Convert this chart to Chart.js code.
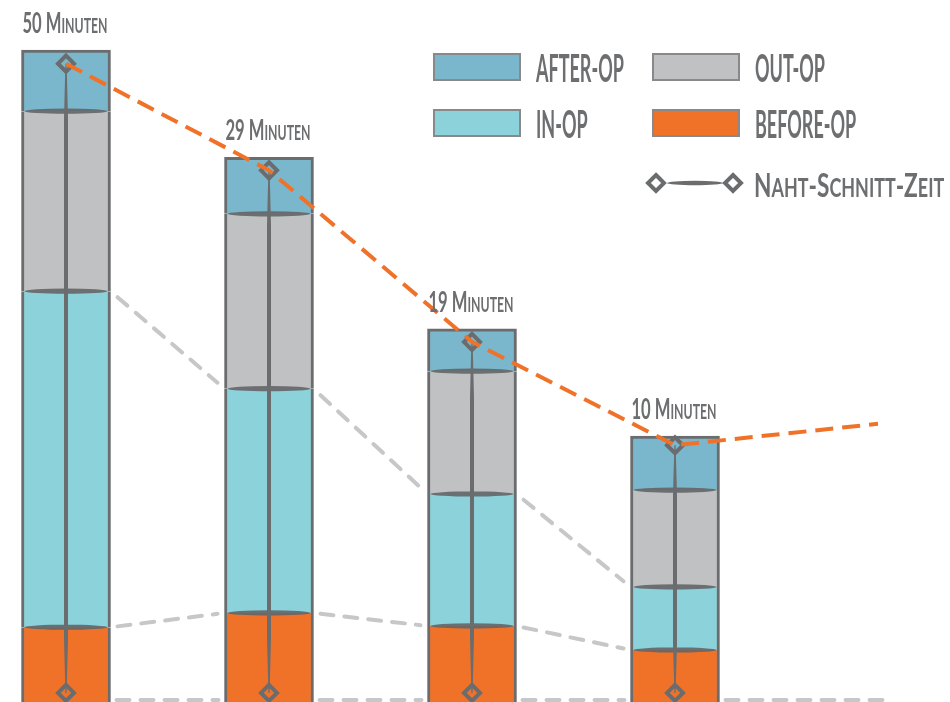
<!DOCTYPE html>
<html><head><meta charset="utf-8">
<script src="https://cdn.jsdelivr.net/npm/chart.js@4/dist/chart.umd.min.js"></script>
<style>html,body{margin:0;padding:0;background:#fff;overflow:hidden}</style>
</head><body>
<canvas id="c" width="950" height="702"></canvas>
<script>
// ---- data ----
const categories = ['1', '2', '3', '4', '5'];
const durationLabels = ['50 Minuten', '29 Minuten', '19 Minuten', '10 Minuten'];
const beforeOp = [11.5, 13.7, 11.7, 8.0, null];
const inOp     = [51.7, 34.5, 20.3, 9.7, null];
const outOp    = [27.7, 26.9, 18.9, 14.9, null];
const afterOp  = [9.4, 8.7, 6.5, 8.3, null];
const nahtStart = [1.4, 1.4, 1.4, 1.4, null];
const nahtEnd   = [98.2, 81.8, 55.4, 39.5, null];
const trendLine = [98.2, 81.8, 55.4, 39.5, 42.8];
const seriesNames = ['BEFORE-OP', 'IN-OP', 'OUT-OP', 'AFTER-OP'];
const nahtName = 'Naht-Schnitt-Zeit';

// ---- styles ----
const COL = {before:'#f07228', inop:'#8bd2da', out:'#c0c1c3', after:'#7ab6cc',
             frame:'#6b6c6e', text:'#6d6e70', dash:'#c6c7c9', trend:'#f07228'};
const FONT = 'Lato, "Open Sans", sans-serif';
const CAPR = 0.72;

function drawSmallCaps(ctx, text, x, y, capH, scH, sx, align, weight) {
  const runs = [];
  for (const ch of text) {
    const small = ch !== ch.toUpperCase();
    const last = runs[runs.length - 1];
    if (last && last.small === small) last.t += ch; else runs.push({small, t: ch});
  }
  let total = 0;
  runs.forEach(r => {
    r.font = `${weight || 'normal'} ${((r.small ? scH : capH) / CAPR).toFixed(2)}px ${FONT}`;
    r.s = r.t.toUpperCase();
    ctx.font = r.font;
    r.w = ctx.measureText(r.s).width;
    total += r.w;
  });
  let cx = align === 'center' ? x - total * sx / 2 : x;
  ctx.save();
  ctx.fillStyle = COL.text;
  ctx.textAlign = 'left';
  ctx.textBaseline = 'alphabetic';
  runs.forEach(r => {
    ctx.font = r.font;
    ctx.save(); ctx.translate(cx, y); ctx.scale(sx, 1); ctx.fillText(r.s, 0, 0); ctx.restore();
    cx += r.w * sx;
  });
  ctx.restore();
}

function diamond(ctx, x, y, r) {
  ctx.beginPath();
  ctx.moveTo(x, y - r); ctx.lineTo(x + r, y); ctx.lineTo(x, y + r); ctx.lineTo(x - r, y); ctx.closePath();
  ctx.lineWidth = 4; ctx.strokeStyle = COL.frame; ctx.lineJoin = 'miter'; ctx.stroke();
}

function lens(ctx, x, y, rx, ry) {
  ctx.beginPath();
  ctx.ellipse(x, y, rx, ry, 0, 0, Math.PI * 2);
  ctx.fill();
}

function dashedSeg(ctx, x1, y1, x2, y2, trim) {
  const dx = x2 - x1, dy = y2 - y1;
  const f1 = trim / dx, f2 = 1 - trim / dx;
  ctx.beginPath();
  ctx.moveTo(x1 + dx * f1, y1 + dy * f1);
  ctx.lineTo(x1 + dx * f2, y1 + dy * f2);
  ctx.stroke();
}

const barBorder = {left: 3, right: 3, top: 0, bottom: 0};
const barCommon = {type: 'bar', borderColor: COL.frame, borderSkipped: false, barThickness: 89,
                   clip: false, order: 10, stack: 'ops', yAxisID: 'y'};

const data = {
  labels: categories,
  datasets: [
    Object.assign({label: seriesNames[0], data: beforeOp, backgroundColor: COL.before, borderWidth: barBorder}, barCommon),
    Object.assign({label: seriesNames[1], data: inOp, backgroundColor: COL.inop, borderWidth: barBorder}, barCommon),
    Object.assign({label: seriesNames[2], data: outOp, backgroundColor: COL.out, borderWidth: barBorder}, barCommon),
    Object.assign({label: seriesNames[3], data: afterOp, backgroundColor: COL.after,
                   borderWidth: {left: 3, right: 3, top: 3, bottom: 0}}, barCommon),
    {type: 'line', label: nahtName + ' (Start)', data: nahtStart, showLine: false, pointStyle: 'rectRot',
     pointRadius: 8, pointBorderWidth: 4, pointBorderColor: COL.frame, pointBackgroundColor: 'rgba(0,0,0,0)',
     yAxisID: 'y2', order: 3, clip: false},
    {type: 'line', label: nahtName, data: nahtEnd, showLine: false, pointStyle: 'rectRot',
     pointRadius: 8, pointBorderWidth: 4, pointBorderColor: COL.frame, pointBackgroundColor: 'rgba(0,0,0,0)',
     yAxisID: 'y2', order: 2, clip: false},
    {type: 'line', label: 'Trend', data: trendLine, borderColor: COL.trend, borderWidth: 4,
     borderDash: [18, 9], pointRadius: 0, fill: false, tension: 0, yAxisID: 'y2', order: 1, clip: false}
  ]
};

const decor = {
  id: 'decor',
  beforeDatasetsDraw(chart) {
    const ctx = chart.ctx;
    const m0 = chart.getDatasetMeta(0).data, m1 = chart.getDatasetMeta(1).data;
    ctx.save();
    ctx.strokeStyle = COL.dash; ctx.lineWidth = 4; ctx.lineCap = 'round';
    ctx.setLineDash([13, 11]);
    const n = 4;
    for (let i = 0; i < n - 1; i++) {
      const a0 = m0[i], b0 = m0[i + 1], a1 = m1[i], b1 = m1[i + 1];
      const ra = a0.x + a0.width / 2, lb = b0.x - b0.width / 2;
      dashedSeg(ctx, ra, a0.y, lb, b0.y, 7);
      dashedSeg(ctx, ra, a1.y, lb, b1.y, 7);
      dashedSeg(ctx, ra, a0.base - 2, lb, b0.base - 2, 6);
    }
    const last = m0[n - 1];
    const xEnd = chart.scales.x.getPixelForValue(n) + 12;
    dashedSeg(ctx, last.x + last.width / 2, last.base - 2, xEnd, last.base - 2, 6);
    ctx.restore();
  },
  beforeDatasetDraw(chart, args) {
    if (args.index !== 4) return;
    const ctx = chart.ctx;
    ctx.save();
    ctx.fillStyle = 'rgba(100,101,103,0.9)';
    for (let d = 0; d < 3; d++) {
      chart.getDatasetMeta(d).data.forEach((el, i) => {
        if (data.datasets[d].data[i] == null) return;
        lens(ctx, el.x, el.y, el.width / 2 - 3, 2.6);
      });
    }
    const s = chart.getDatasetMeta(4).data, e = chart.getDatasetMeta(5).data;
    ctx.fillStyle = COL.frame;
    for (let i = 0; i < 4; i++) {
      const x = e[i].x, yt = e[i].y, yb = s[i].y;
      const T = Math.min(55, (yb - yt) * 0.2);
      ctx.beginPath();
      ctx.moveTo(x - 0.6, yt); ctx.lineTo(x - 2, yt + T); ctx.lineTo(x - 2, yb - T);
      ctx.lineTo(x - 0.6, yb); ctx.lineTo(x + 0.6, yb); ctx.lineTo(x + 2, yb - T);
      ctx.lineTo(x + 2, yt + T); ctx.lineTo(x + 0.6, yt); ctx.closePath();
      ctx.fill();
    }
    ctx.restore();
  },
  afterDatasetsDraw(chart) {
    const ctx = chart.ctx;
    chart.getDatasetMeta(3).data.forEach((el, i) => {
      if (i >= durationLabels.length) return;
      drawSmallCaps(ctx, durationLabels[i], el.x - 1, el.y - 17, 21, 15.5, 0.57, 'center', 'bold');
    });
    const ds = chart.data.datasets;
    const boxes = [[3, 433, 53], [2, 652, 53], [1, 433, 109], [0, 652, 109]];
    boxes.forEach(([d, x, y]) => {
      ctx.save();
      ctx.fillStyle = ds[d].backgroundColor;
      ctx.fillRect(x, y, 88, 28);
      ctx.strokeStyle = '#88898b'; ctx.lineWidth = 2;
      ctx.strokeRect(x + 1, y + 1, 86, 26);
      ctx.restore();
      drawSmallCaps(ctx, ds[d].label, x + 103, y + 29, 27, 21, 0.48, 'left', 'bold');
    });
    ctx.save();
    diamond(ctx, 656, 183, 8);
    diamond(ctx, 733, 183, 8);
    ctx.fillStyle = COL.frame;
    ctx.beginPath(); ctx.ellipse(695, 183, 28, 2.2, 0, 0, Math.PI * 2); ctx.fill();
    ctx.restore();
    drawSmallCaps(ctx, ds[5].label, 754, 197, 24, 19, 0.68, 'left', 'bold');
  }
};

new Chart(document.getElementById('c'), {
  data,
  options: {
    responsive: false, animation: false,
    layout: {autoPadding: false, padding: {left: 66, right: 72, top: 0, bottom: 0}},
    plugins: {legend: {display: false}, tooltip: {enabled: false}},
    scales: {
      x: {type: 'category', offset: false, display: false, stacked: true},
      y: {display: false, stacked: true, min: 0, max: 108},
      y2: {display: false, stacked: false, min: 0, max: 108}
    }
  },
  plugins: [decor]
});
</script>
</body></html>
